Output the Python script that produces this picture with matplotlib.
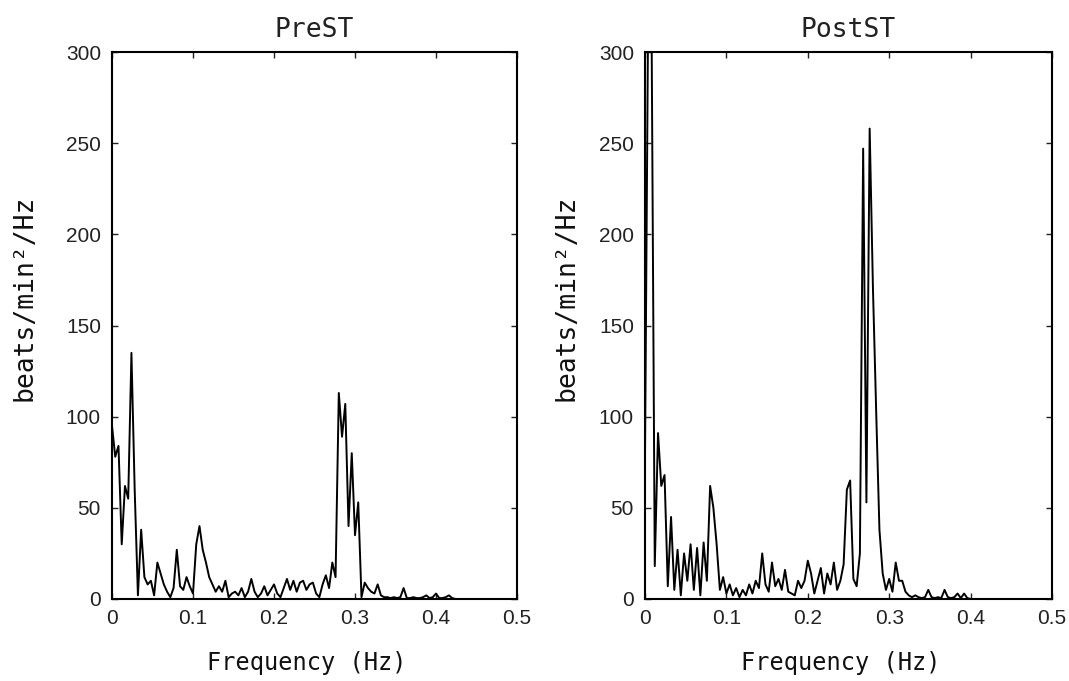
import numpy as np
import matplotlib
matplotlib.use('Agg')
import matplotlib.pyplot as plt

# spectrum sampling step (Hz)
df = 0.004

pre_power = [
    95, 78, 84, 30, 62, 55, 135, 60, 2, 38,
    12, 8, 10, 2, 20, 14, 8, 4, 1, 6,
    27, 7, 5, 12, 7, 3, 30, 40, 27, 20,
    12, 8, 4, 7, 4, 10, 1, 3, 4, 2,
    6, 1, 4, 11, 4, 1, 3, 7, 2, 5,
    8, 3, 1, 6, 11, 5, 10, 4, 9, 10,
    5, 8, 9, 3, 1, 8, 13, 6, 20, 12,
    113, 89, 107, 40, 80, 35, 53, 1, 9, 6,
    4, 3, 8, 2, 1, 1, 0.5, 1, 0.5, 1,
    6, 0.5, 0.5, 1, 0.5, 0.5, 1, 2, 0.5, 1,
    3, 0.5, 0.5, 1, 2, 0.5, 0, 0, 0, 0,
    0, 0, 0, 0, 0, 0, 0, 0, 0, 0,
    0, 0, 0, 0, 0, 0,
]

post_power = [
    78, 330, 320, 18, 91, 62, 68, 7, 45, 5,
    27, 2, 25, 10, 30, 5, 28, 2, 31, 10,
    62, 50, 30, 5, 12, 3, 8, 2, 6, 1,
    5, 2, 8, 3, 10, 6, 25, 8, 4, 20,
    7, 11, 5, 16, 4, 3, 2, 10, 6, 10,
    21, 14, 3, 10, 17, 3, 14, 8, 20, 5,
    10, 19, 60, 65, 11, 7, 25, 247, 53, 258,
    171, 103, 38, 14, 5, 11, 4, 20, 10, 10,
    4, 2, 1, 2, 1, 0.5, 1, 5, 1, 0.5,
    1, 0.5, 5, 1, 0.5, 1, 3, 0.5, 3, 0.5,
    0, 0, 0, 0, 0, 0, 0, 0, 0, 0,
    0, 0, 0, 0, 0, 0, 0, 0, 0, 0,
    0, 0, 0, 0, 0, 0,
]

titles = ['PreST', 'PostST']
xtick_vals = [0, 0.1, 0.2, 0.3, 0.4, 0.5]
xtick_labels = ['0', '0.1', '0.2', '0.3', '0.4', '0.5']
ytick_vals = [0, 50, 100, 150, 200, 250, 300]

mono = 'DejaVu Sans Mono'
plt.rcParams['font.family'] = ['Liberation Sans', 'DejaVu Sans']

fig = plt.figure(figsize=(10.69, 6.81), dpi=100)
ax1 = fig.add_axes([112 / 1069, 82 / 681, 405 / 1069, 547 / 681])
ax2 = fig.add_axes([645 / 1069, 82 / 681, 407 / 1069, 547 / 681])

label_x = [-0.183, -0.16]

for i, (ax, power) in enumerate(zip([ax1, ax2], [pre_power, post_power])):
    freq = np.arange(len(power)) * df
    ax.plot(freq, power, color='black', lw=1.4)
    ax.set_xlim(0, 0.5)
    ax.set_ylim(0, 300)
    ax.set_xticks(xtick_vals)
    ax.set_xticklabels(xtick_labels)
    ax.set_yticks(ytick_vals)
    ax.tick_params(direction='in', top=True, right=True, length=4, width=1,
                   labelsize=15, colors='#222222')
    ax.tick_params(axis='x', pad=7)
    ax.tick_params(axis='y', pad=8)
    for sp in ax.spines.values():
        sp.set_linewidth(1.5)
    ax.set_title(titles[i], fontsize=19, family=mono, color='#222222', pad=11)
    ax.set_xlabel('Frequency (Hz)', fontsize=17, family=mono, color='#111111')
    ax.xaxis.set_label_coords(0.48, -0.095)
    ax.set_ylabel('beats/min²/Hz', fontsize=19, family=mono, color='#111111')
    ax.yaxis.set_label_coords(label_x[i], 0.55)

fig.savefig('out.png', dpi=100)
